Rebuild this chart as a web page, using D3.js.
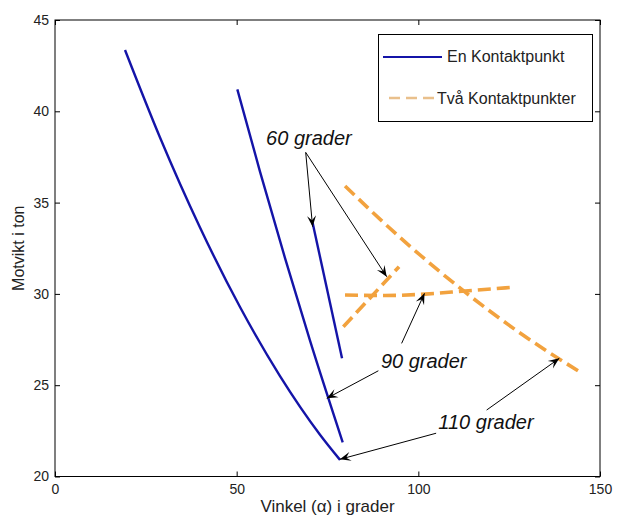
<!DOCTYPE html>
<html><head><meta charset="utf-8">
<script src="https://cdn.jsdelivr.net/npm/d3@7"></script>
<style>body{margin:0;background:#fff}svg{display:block}</style>
</head><body><svg id="c" width="617" height="517"></svg>
<script>
// ---- data ----
const xTicks = [0, 50, 100, 150];
const yTicks = [20, 25, 30, 35, 40, 45];
// En Kontaktpunkt (blue)
const en110 = [[19.27,43.36],[28.9,38.57],[39.91,33.64],[50.92,29.28],[61.93,25.5],[72.94,22.29],[78.45,20.91]];
const en90  = [[50.18,41.2],[56.42,36.7],[63.31,31.96],[70.19,27.44],[79.19,21.87]];
const en60  = [[70.9,33.9],[79.0,26.47]];
// Två Kontaktpunkter (orange dashed)
const tva110 = [[79.82,35.91],[94.96,33.09],[112.3,30.19],[127.99,27.86],[144.98,25.66]];
const tva90  = [[79.82,29.94],[90.83,29.91],[101.84,29.99],[112.85,30.16],[125.24,30.35]];
const tva60  = [[79.36,28.2],[94.69,31.49]];
const legendLabels = ["En Kontaktpunkt", "Två Kontaktpunkter"];
const annLabels = ["60 grader", "90 grader", "110 grader"];
const annTextPos = [[58.1,38.15],[89.7,25.93],[105.5,22.59]];
const annArrows = [
  [[[69.0,37.75],[70.9,33.68]], [[69.0,37.75],[91.3,30.94]]],
  [[[95.4,27.29],[101.7,30.03]], [[89.0,25.79],[74.8,24.28]]],
  [[[118.8,23.64],[138.8,26.47]], [[104.9,22.37],[78.4,20.94]]]
];

// ---- layout ----
const L = 55, R = 600, T = 20, B = 476.5;
const svg = d3.select("#c");
const x = d3.scaleLinear().domain([0,150]).range([L,R]);
const y = d3.scaleLinear().domain([20,45]).range([B,T]);
const font = "'Liberation Sans', Arial, sans-serif";
const blue = "#1414a8", orange = "#f2a23e";

svg.append("rect").attr("width",617).attr("height",517).attr("fill","#fff");

// markers
const defs = svg.append("defs");
defs.append("marker").attr("id","ah").attr("markerUnits","userSpaceOnUse")
  .attr("viewBox","-12 -6 14 12").attr("refX",0).attr("refY",0)
  .attr("markerWidth",14).attr("markerHeight",12).attr("orient","auto")
  .append("path").attr("d","M0,0 L-11,-4.5 L-6.5,0 L-11,4.5 Z").attr("fill","#000");

// axes with inward ticks (all four sides)
const tl = 5;
const gx = svg.append("g").attr("transform",`translate(0,${B})`)
  .call(d3.axisBottom(x).tickValues(xTicks).tickSizeInner(-tl).tickSizeOuter(0).tickPadding(8));
const gxt = svg.append("g").attr("transform",`translate(0,${T})`)
  .call(d3.axisTop(x).tickValues(xTicks).tickSizeInner(-tl).tickSizeOuter(0).tickFormat(""));
const gy = svg.append("g").attr("transform",`translate(${L},0)`)
  .call(d3.axisLeft(y).tickValues(yTicks).tickSizeInner(-tl).tickSizeOuter(0).tickPadding(6));
const gyr = svg.append("g").attr("transform",`translate(${R},0)`)
  .call(d3.axisRight(y).tickValues(yTicks).tickSizeInner(-tl).tickSizeOuter(0).tickFormat(""));
[gx,gxt,gy,gyr].forEach(g=>{
  g.select(".domain").remove();
  g.selectAll("line").attr("stroke","#000");
  g.selectAll("text").attr("font-family",font).attr("font-size",14).attr("fill","#222");
});
svg.append("rect").attr("x",L).attr("y",T).attr("width",R-L).attr("height",B-T)
  .attr("fill","none").attr("stroke","#000").attr("stroke-width",1);

// axis titles
svg.append("text").attr("x",(L+R)/2).attr("y",512).attr("text-anchor","middle")
  .attr("font-family",font).attr("font-size",17).attr("fill","#222").text("Vinkel (α) i grader");
svg.append("text").attr("transform",`translate(24,${(T+B)/2}) rotate(-90)`).attr("text-anchor","middle")
  .attr("font-family",font).attr("font-size",16).attr("fill","#222").text("Motvikt i ton");

// lines
const line = d3.line().x(d=>x(d[0])).y(d=>y(d[1])).curve(d3.curveMonotoneX);
[en110,en90,en60].forEach(s=>{
  svg.append("path").attr("d",line(s)).attr("fill","none").attr("stroke",blue).attr("stroke-width",2.4);
});
[tva110,tva90,tva60].forEach(s=>{
  svg.append("path").attr("d",line(s)).attr("fill","none").attr("stroke",orange)
    .attr("stroke-width",3.6).attr("stroke-dasharray","13,6");
});

// annotations
annArrows.forEach(arr=>arr.forEach(a=>{
  svg.append("line").attr("x1",x(a[0][0])).attr("y1",y(a[0][1]))
    .attr("x2",x(a[1][0])).attr("y2",y(a[1][1]))
    .attr("stroke","#000").attr("stroke-width",1).attr("marker-end","url(#ah)");
}));
annLabels.forEach((t,i)=>{
  svg.append("text").attr("x",x(annTextPos[i][0])).attr("y",y(annTextPos[i][1]))
    .attr("font-family",font).attr("font-style","italic").attr("font-size",20).attr("fill","#111").text(t);
});

// legend
const lg = svg.append("g");
lg.append("rect").attr("x",378.5).attr("y",34.5).attr("width",214).attr("height",87)
  .attr("fill","#fff").attr("stroke","#000").attr("stroke-width",1);
lg.append("line").attr("x1",383).attr("x2",442).attr("y1",57).attr("y2",57)
  .attr("stroke",blue).attr("stroke-width",2.2);
lg.append("line").attr("x1",389).attr("x2",437).attr("y1",98).attr("y2",98)
  .attr("stroke","#e9c08c").attr("stroke-width",2.6).attr("stroke-dasharray","11,6");
lg.append("text").attr("x",447).attr("y",62).attr("font-family",font).attr("font-size",16)
  .attr("fill","#222").text(legendLabels[0]);
lg.append("text").attr("x",437).attr("y",104).attr("font-family",font).attr("font-size",16)
  .attr("fill","#222").text(legendLabels[1]);
</script></body></html>
